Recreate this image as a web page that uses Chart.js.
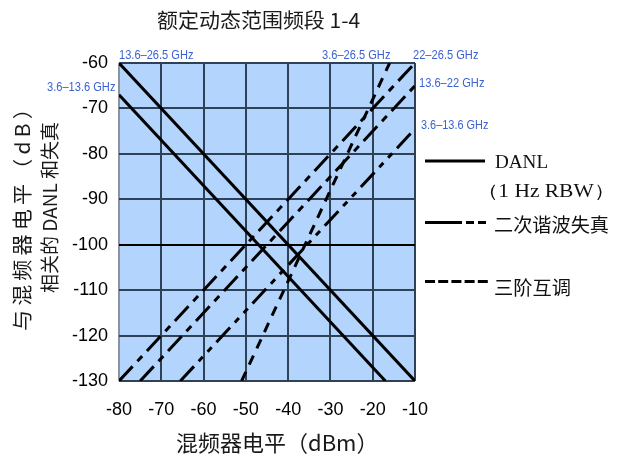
<!DOCTYPE html>
<html>
<head>
<meta charset="utf-8">
<script src="https://cdn.jsdelivr.net/npm/chart.js@4.4.1/dist/chart.umd.min.js"></script>
<style>
html,body{margin:0;padding:0;background:#fff;}
canvas{display:block;}
</style>
</head>
<body>
<canvas id="c" width="618" height="455"></canvas>
<script>
// ---- data ----
const xTicks = [-80, -70, -60, -50, -40, -30, -20, -10];
const yTicks = [-60, -70, -80, -90, -100, -110, -120, -130];

// DANL (1 Hz RBW)
const danlHighX = [-80, -10];     // 13.6–26.5 GHz
const danlHighY = [-60, -130];
const danlLowX = [-80, -17];      // 3.6–13.6 GHz
const danlLowY = [-67, -130];

// second harmonic distortion
const shi22X = [-80, -10];        // 22–26.5 GHz
const shi22Y = [-130, -60];
const shi136X = [-75, -10];       // 13.6–22 GHz
const shi136Y = [-130, -65];
const shi36X = [-65.5, -10];      // 3.6–13.6 GHz
const shi36Y = [-130, -74.5];

// third order intermodulation
const toiX = [-51, -16];          // 3.6–26.5 GHz
const toiY = [-130, -60];

const bandLabels = ['13.6–26.5 GHz', '3.6–13.6 GHz', '3.6–26.5 GHz', '22–26.5 GHz', '13.6–22 GHz', '3.6–13.6 GHz'];
const titleText = '额定动态范围频段 1-4';
const xTitle = '混频器电平（dBm）';
const yTitle = ['与混频器电平（dB）', '相关的 DANL 和失真'];
const legendTexts = ['DANL', '（1 Hz RBW）', '二次谐波失真', '三阶互调'];

function pts(xs, ys) { return xs.map((x, i) => ({ x: x, y: ys[i] })); }

const BLUE = '#3a63cf';
const GRID = '#2e4157';
const CJK = '"Noto Sans CJK SC", sans-serif';
const SANS = '"Liberation Sans", Arial, sans-serif';
const SERIF = '"Liberation Serif", "Times New Roman", serif';

// draw text so that its ink spans from a to b along the text direction
function fitInk(ctx, text, a, b, cross, font, color, rotated, spacing) {
  ctx.save();
  ctx.font = font;
  if (spacing) { try { ctx.letterSpacing = spacing; } catch (e) {} }
  ctx.fillStyle = color;
  ctx.textAlign = 'left';
  ctx.textBaseline = 'middle';
  const m = ctx.measureText(text);
  const inkW = m.actualBoundingBoxLeft + m.actualBoundingBoxRight;
  const len = Math.abs(b - a);
  const k = inkW > 0 ? len / inkW : 1;
  if (rotated) {
    ctx.translate(cross, a);
    ctx.rotate(-Math.PI / 2);
  } else {
    ctx.translate(a, cross);
  }
  ctx.scale(k, 1);
  ctx.fillText(text, m.actualBoundingBoxLeft, 0);
  ctx.restore();
}

function plainText(ctx, text, x, y, font, color, align) {
  ctx.save();
  ctx.font = font;
  ctx.fillStyle = color;
  ctx.textAlign = align || 'left';
  ctx.textBaseline = 'middle';
  ctx.fillText(text, x, y);
  ctx.restore();
}

const bgPlugin = {
  id: 'bg',
  beforeDraw(chart) {
    const { ctx, chartArea: a } = chart;
    ctx.save();
    ctx.fillStyle = '#b3d4fc';
    ctx.fillRect(a.left, a.top, a.right - a.left, a.bottom - a.top);
    ctx.restore();
  }
};

const textPlugin = {
  id: 'texts',
  afterDraw(chart) {
    const ctx = chart.ctx;
    const dark = '#1a1a1a';
    // title
    fitInk(ctx, titleText, 157, 360, 20, '20px ' + CJK, dark, false);

    // band labels
    const bf = '13px ' + SANS;
    fitInk(ctx, bandLabels[0], 119, 193, 55, bf, BLUE, false);
    fitInk(ctx, bandLabels[1], 47, 115, 87, bf, BLUE, false);
    fitInk(ctx, bandLabels[2], 322, 390, 55, bf, BLUE, false);
    fitInk(ctx, bandLabels[3], 413, 478, 55, bf, BLUE, false);
    fitInk(ctx, bandLabels[4], 419, 484, 83, bf, BLUE, false);
    fitInk(ctx, bandLabels[5], 421, 488, 125, bf, BLUE, false);

    // axis titles
    plainText(ctx, xTitle, 176, 443, '22px ' + CJK, dark, 'left');
    fitInk(ctx, yTitle[0], 330, 112, 22.5, '20px ' + CJK, dark, true, '4px');
    fitInk(ctx, yTitle[1], 293, 123, 50, '19px ' + CJK, dark, true);

    // legend symbols
    ctx.save();
    ctx.strokeStyle = '#000';
    ctx.lineWidth = 3;
    ctx.lineCap = 'butt';
    ctx.beginPath(); ctx.moveTo(425, 161); ctx.lineTo(485, 161); ctx.stroke();
    ctx.setLineDash([37, 4, 8, 4, 8, 4]);
    ctx.beginPath(); ctx.moveTo(425, 222.5); ctx.lineTo(487, 222.5); ctx.stroke();
    ctx.setLineDash([10, 3.2]);
    ctx.beginPath(); ctx.moveTo(425, 281.5); ctx.lineTo(488, 281.5); ctx.stroke();
    ctx.restore();

    // legend texts
    fitInk(ctx, legendTexts[0], 495, 547, 163.5, '18px ' + SERIF, '#111', false);
    fitInk(ctx, legendTexts[1], 490, 602, 192, '18px ' + SERIF, '#111', false);
    fitInk(ctx, legendTexts[2], 495, 608, 225, '19px ' + CJK, '#111', false);
    fitInk(ctx, legendTexts[3], 495, 570, 287.5, '19px ' + CJK, '#111', false);
  }
};

const lineDs = (data, dash) => ({
  data: data,
  showLine: true,
  borderColor: '#000',
  borderWidth: 3,
  borderDash: dash,
  pointRadius: 0,
  fill: false,
  borderCapStyle: 'butt'
});

new Chart(document.getElementById('c'), {
  type: 'scatter',
  data: {
    datasets: [
      lineDs(pts(danlHighX, danlHighY), []),
      lineDs(pts(danlLowX, danlLowY), []),
      lineDs(pts(shi22X, shi22Y), [20, 7, 7, 7]),
      lineDs(pts(shi136X, shi136Y), [20, 7, 7, 7]),
      lineDs(pts(shi36X, shi36Y), [20, 7, 6, 7, 6, 7]),
      lineDs(pts(toiX, toiY), [10, 8])
    ]
  },
  options: {
    responsive: false,
    animation: false,
    devicePixelRatio: 1,
    layout: { padding: { left: 0, right: 203, top: 63, bottom: 0 } },
    plugins: { legend: { display: false }, tooltip: { enabled: false }, title: { display: false } },
    scales: {
      x: {
        type: 'linear', min: -80, max: -10,
        afterBuildTicks: s => { s.ticks = xTicks.map(v => ({ value: v })); },
        afterFit: s => { s.height = 74; },
        ticks: { color: '#000', font: { family: SANS, size: 18 }, padding: 18, maxRotation: 0 },
        grid: {
          drawTicks: false, lineWidth: 2,
          color: c => (c.tick && c.tick.value === -80) ? '#8c939b' : GRID
        },
        border: { display: false }
      },
      y: {
        type: 'linear', min: -130, max: -60,
        afterBuildTicks: s => { s.ticks = yTicks.map(v => ({ value: v })); },
        afterFit: s => { s.width = 119; },
        ticks: { color: '#000', font: { family: SANS, size: 18 }, padding: 11 },
        grid: {
          drawTicks: false,
          lineWidth: 2,
          color: c => (c.tick && c.tick.value === -100) ? '#000' : GRID
        },
        border: { display: false }
      }
    }
  },
  plugins: [bgPlugin, textPlugin]
});
</script>
</body>
</html>
